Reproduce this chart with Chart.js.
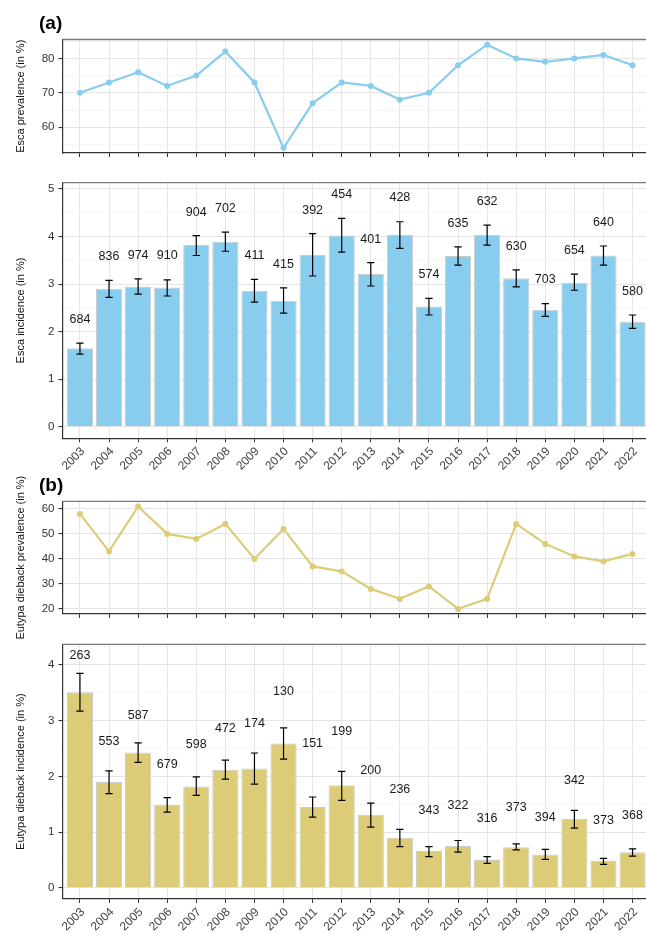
<!DOCTYPE html>
<html>
<head>
<meta charset="utf-8">
<script src="https://cdn.jsdelivr.net/npm/chart.js@4"></script>
<style>
  html, body { margin: 0; padding: 0; background: #fff; width: 646px; height: 934px; overflow: hidden; position: relative; }
  canvas { position: absolute; left: 0; }
  .tag { position: absolute; font: bold 19px "Liberation Sans", Arial, sans-serif; line-height: 1; color: #000; z-index: 5; }
</style>
</head>
<body>
<canvas id="c1"></canvas>
<canvas id="c2"></canvas>
<canvas id="c3"></canvas>
<canvas id="c4"></canvas>
<div class="tag" style="left:39px; top:13px">(a)</div>
<div class="tag" style="left:39px; top:475px">(b)</div>
<script>
// =================== Datos ===================
const years = ["2003","2004","2005","2006","2007","2008","2009","2010","2011","2012",
               "2013","2014","2015","2016","2017","2018","2019","2020","2021","2022"];

// Esca
const escaPrev  = [70, 73, 76, 72, 75, 82, 73, 54, 67, 73, 72, 68, 70, 78, 84, 80, 79, 80, 81, 78];
const escaInc   = [1.65, 2.90, 2.95, 2.93, 3.82, 3.89, 2.86, 2.65, 3.61, 4.02, 3.21, 4.03, 2.53, 3.59, 4.03, 3.12, 2.46, 3.03, 3.60, 2.21];
const escaIncLo = [1.53, 2.72, 2.79, 2.75, 3.60, 3.69, 2.62, 2.39, 3.17, 3.67, 2.96, 3.75, 2.35, 3.40, 3.82, 2.94, 2.32, 2.87, 3.40, 2.07];
const escaIncHi = [1.76, 3.08, 3.11, 3.09, 4.02, 4.09, 3.10, 2.92, 4.06, 4.38, 3.45, 4.31, 2.70, 3.78, 4.24, 3.30, 2.59, 3.21, 3.80, 2.35];
const escaN     = [684, 836, 974, 910, 904, 702, 411, 415, 392, 454, 401, 428, 574, 635, 632, 630, 703, 654, 640, 580];
const escaNAt   = [2.25, 3.57, 3.59, 3.59, 4.50, 4.59, 3.60, 3.40, 4.54, 4.88, 3.93, 4.81, 3.19, 4.27, 4.73, 3.78, 3.09, 3.70, 4.29, 2.84];

// Eutypa dieback
const eutPrev  = [58, 43, 61, 50, 48, 54, 40, 52, 37, 35, 28, 24, 29, 20, 24, 54, 46, 41, 39, 42];
const eutInc   = [3.51, 1.90, 2.43, 1.49, 1.82, 2.12, 2.14, 2.59, 1.45, 1.84, 1.31, 0.90, 0.66, 0.75, 0.50, 0.73, 0.60, 1.24, 0.48, 0.64];
const eutIncLo = [3.17, 1.69, 2.25, 1.36, 1.66, 1.95, 1.86, 2.31, 1.27, 1.57, 1.09, 0.74, 0.56, 0.64, 0.44, 0.68, 0.51, 1.07, 0.42, 0.57];
const eutIncHi = [3.85, 2.10, 2.60, 1.62, 1.99, 2.29, 2.42, 2.87, 1.63, 2.09, 1.52, 1.05, 0.74, 0.85, 0.56, 0.79, 0.69, 1.39, 0.53, 0.70];
const eutN     = [263, 553, 587, 679, 598, 472, 174, 130, 151, 199, 200, 236, 343, 322, 316, 373, 394, 342, 373, 368];
const eutNAt   = [4.17, 2.62, 3.10, 2.21, 2.57, 2.85, 2.95, 3.52, 2.59, 2.80, 2.10, 1.76, 1.39, 1.48, 1.24, 1.44, 1.26, 1.92, 1.21, 1.29];

// ticks del eje y
const escaPrevTicks = [60, 70, 80];
const escaIncTicks  = [0, 1, 2, 3, 4, 5];
const eutPrevTicks  = [20, 30, 40, 50, 60];
const eutIncTicks   = [0, 1, 2, 3, 4];

// =================== Estilo ===================
const FONT = '"Liberation Sans", Arial, Helvetica, sans-serif';
const BLUE = "#88CCEE";
const SAND = "#DDCC77";
const CANVAS_W = 660;
const PLOT_LEFT = 62.5;
const PLOT_RIGHT = 650;

// =================== Plugins ===================
function plugTitle(text) {
  return {
    id: "ytitle",
    afterDraw(chart) {
      const { ctx, chartArea: ca } = chart;
      ctx.save();
      ctx.translate(21.3, (ca.top + ca.bottom) / 2);
      ctx.rotate(-Math.PI / 2);
      ctx.textAlign = "center";
      ctx.textBaseline = "middle";
      ctx.font = `11px ${FONT}`;
      ctx.fillStyle = "#111";
      ctx.fillText(text, 0, 0);
      ctx.restore();
    }
  };
}

const plugFrame = {
  id: "frame",
  afterDraw(chart) {
    const { ctx, chartArea: ca } = chart;
    ctx.save();
    ctx.strokeStyle = "#7a7a7a";
    ctx.lineWidth = 1.3;
    ctx.beginPath();
    ctx.moveTo(ca.left, ca.top);
    ctx.lineTo(ca.right, ca.top);
    ctx.lineTo(ca.right, ca.bottom);
    ctx.stroke();
    ctx.restore();
  }
};

function plugErrors(lo, hi, n, nAt) {
  return {
    id: "errs",
    afterDatasetsDraw(chart) {
      const { ctx } = chart;
      const xs = chart.scales.x, ys = chart.scales.y;
      ctx.save();
      ctx.strokeStyle = "#000";
      ctx.lineWidth = 1.2;
      lo.forEach((l, i) => {
        const x = xs.getPixelForValue(i);
        const x0 = xs.getPixelForValue(i - 0.125);
        const x1 = xs.getPixelForValue(i + 0.125);
        const yl = ys.getPixelForValue(l);
        const yh = ys.getPixelForValue(hi[i]);
        ctx.beginPath();
        ctx.moveTo(x, yl); ctx.lineTo(x, yh);
        ctx.moveTo(x0, yl); ctx.lineTo(x1, yl);
        ctx.moveTo(x0, yh); ctx.lineTo(x1, yh);
        ctx.stroke();
      });
      ctx.fillStyle = "#1a1a1a";
      ctx.font = `12.5px ${FONT}`;
      ctx.textAlign = "center";
      ctx.textBaseline = "middle";
      n.forEach((v, i) => {
        ctx.fillText(String(v), xs.getPixelForValue(i), ys.getPixelForValue(nAt[i]));
      });
      ctx.restore();
    }
  };
}

// =================== Paneles ===================
function panel(o) {
  const cv = document.getElementById(o.id);
  cv.width = CANVAS_W;
  cv.height = o.height;
  cv.style.top = o.top + "px";

  const step = o.majors[1] - o.majors[0];
  const minors = o.majors.map(v => v + step / 2)
    .concat([o.majors[0] - step / 2])
    .filter(v => v > o.min && v < o.max);
  const allTicks = o.majors.concat(minors).sort((a, b) => a - b);
  const isMajor = c => c && c.tick && o.majors.includes(c.tick.value);

  const pts = o.values.map((v, i) => ({ x: i, y: v }));
  const ds = o.kind === "line"
    ? { type: "line", data: pts, borderColor: o.color, backgroundColor: o.color,
        borderWidth: 2.2, pointRadius: 3, pointHoverRadius: 3, pointBorderWidth: 0,
        pointBackgroundColor: o.color, tension: 0 }
    : { type: "bar", data: pts, backgroundColor: o.color, borderColor: "#cccccc",
        borderWidth: 1, barPercentage: 0.9, categoryPercentage: 1 };

  const plugins = [plugTitle(o.title), plugFrame];
  if (o.err) plugins.push(plugErrors(o.err.lo, o.err.hi, o.err.n, o.err.at));

  return new Chart(cv, {
    type: o.kind,
    data: { datasets: [ds] },
    plugins,
    options: {
      responsive: false,
      animation: false,
      events: [],
      layout: { padding: { top: o.plotTop - o.top, left: 0, right: CANVAS_W - PLOT_RIGHT, bottom: 0 } },
      plugins: { legend: { display: false }, tooltip: { enabled: false } },
      scales: {
        x: {
          type: "linear",
          min: -0.6,
          max: years.length - 0.4,
          offset: false,
          afterBuildTicks: s => { s.ticks = years.map((_, i) => ({ value: i })); },
          afterFit: s => { s.height = o.top + o.height - o.plotBottom; },
          ticks: {
            display: o.showYears,
            autoSkip: false,
            minRotation: 45,
            maxRotation: 45,
            padding: 2,
            labelOffset: 3,
            color: "#444",
            font: { family: FONT, size: 12 },
            callback: v => years[v]
          },
          grid: { color: "#e6e6e6", lineWidth: 1, tickColor: "#333", tickLength: 4, offset: false },
          border: { color: "#333", width: 1.2 }
        },
        y: {
          min: o.min,
          max: o.max,
          afterBuildTicks: s => { s.ticks = allTicks.map(v => ({ value: v })); },
          afterFit: s => { s.width = PLOT_LEFT; },
          ticks: {
            padding: 4,
            color: "#333",
            font: { family: FONT, size: 11.5 },
            callback: v => o.majors.includes(v) ? String(v) : ""
          },
          grid: {
            color: c => isMajor(c) ? "#e4e4e4" : "#f1f1f1",
            lineWidth: c => isMajor(c) ? 1.1 : 0.7,
            tickColor: c => isMajor(c) ? "#333" : "rgba(0,0,0,0)",
            tickLength: 4
          },
          border: { color: "#333", width: 1.2 }
        }
      }
    }
  });
}

panel({ id: "c1", top: 0, height: 175, plotTop: 39.5, plotBottom: 153,
        kind: "line", values: escaPrev, color: BLUE, min: 52.5, max: 85.5,
        majors: escaPrevTicks, title: "Esca prevalence (in %)", showYears: false });

panel({ id: "c2", top: 165, height: 305, plotTop: 182.7, plotBottom: 438.3,
        kind: "bar", values: escaInc, color: BLUE, min: -0.24, max: 5.13,
        majors: escaIncTicks, title: "Esca incidence (in %)", showYears: true,
        err: { lo: escaIncLo, hi: escaIncHi, n: escaN, at: escaNAt } });

panel({ id: "c3", top: 460, height: 190, plotTop: 501.3, plotBottom: 614,
        kind: "line", values: eutPrev, color: SAND, min: 17.95, max: 63.05,
        majors: eutPrevTicks, title: "Eutypa dieback prevalence (in %)", showYears: false });

panel({ id: "c4", top: 630, height: 304, plotTop: 644.3, plotBottom: 899,
        kind: "bar", values: eutInc, color: SAND, min: -0.2, max: 4.37,
        majors: eutIncTicks, title: "Eutypa dieback incidence (in %)", showYears: true,
        err: { lo: eutIncLo, hi: eutIncHi, n: eutN, at: eutNAt } });
</script>
</body>
</html>
